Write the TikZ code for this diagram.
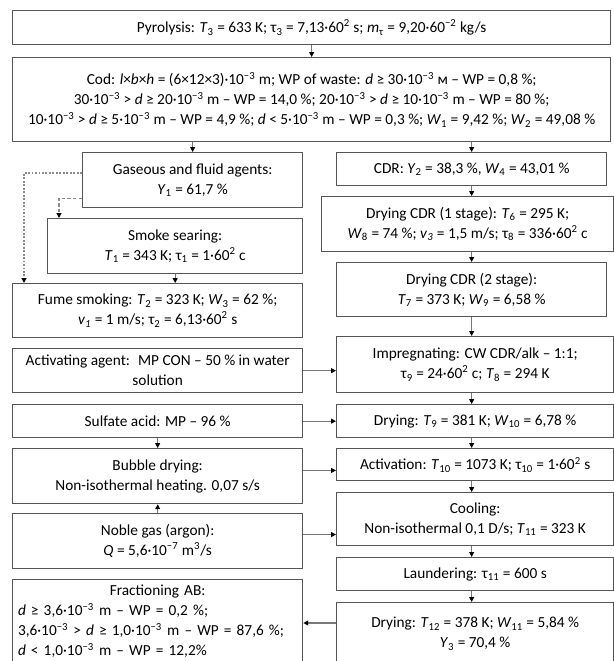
\documentclass[tikz,border=0pt]{standalone}
\usepackage{fontspec}
\setmainfont{Carlito}
\usetikzlibrary{arrows.meta,positioning,calc}
\definecolor{fcedge}{RGB}{85,85,85}
\definecolor{fcline}{RGB}{120,120,120}
\definecolor{fcdash}{RGB}{140,140,140}
\newcommand{\isub}[2]{\textit{#1}\textsubscript{#2}}
\newcommand{\tsup}[1]{\textsuperscript{#1}}
\tikzset{
  fcbox/.style={
    draw=fcedge, line width=1pt, align=center, anchor=north west,
    inner xsep=2pt, inner ysep=2pt, font=\fontsize{11.5}{15}\selectfont
  },
  lcol/.style={fcbox, minimum width=217.5pt},
  rcol/.style={fcbox, minimum width=207.75pt},
  arr/.style={-{Triangle[length=3.6pt,width=3.6pt,color=black]}, draw=fcline, line width=0.8pt},
  dotln/.style={arr, draw=fcdash, line width=1.2pt, dash pattern=on 1.4pt off 1.2pt},
  dshln/.style={arr, draw=fcdash, line width=1.2pt, dash pattern=on 2.6pt off 1.6pt}
}
\begin{document}
\begin{tikzpicture}[x=0.75pt, y=-0.75pt]
  \useasboundingbox (0,0) rectangle (614,661);
  \clip (0,0) rectangle (614,661);
  % top boxes
  \node[fcbox, minimum width=448.5pt, minimum height=25.5pt] (pyro) at (12,10)
    {Pyrolysis: \isub{T}{3} = 633 K; τ\textsubscript{3} = 7,13·60\tsup{2} s; \isub{m}{τ} = 9,20·60\tsup{−2} kg/s};
  \node[fcbox, minimum width=448.5pt, minimum height=63pt] (cod) at (12,57)
    {Cod: \textit{l}×\textit{b}×\textit{h} = (6×12×3)·10\tsup{−3} m; WP of waste: \textit{d} ≥ 30·10\tsup{−3} м – WP = 0,8 \%;\\
     30·10\tsup{−3} > \textit{d} ≥ 20·10\tsup{−3} m – WP = 14,0 \%; 20·10\tsup{−3} > \textit{d} ≥ 10·10\tsup{−3} m – WP = 80 \%;\\
     10·10\tsup{−3} > \textit{d} ≥ 5·10\tsup{−3} m – WP = 4,9 \%; \textit{d} < 5·10\tsup{−3} m – WP = 0,3 \%; \isub{W}{1} = 9,42 \%; \isub{W}{2} = 49,08 \%};
  % left column
  \node[fcbox, minimum width=165pt, minimum height=41.25pt] (gas) at (82,152)
    {Gaseous and fluid agents:\\ \isub{Y}{1} = 61,7 \%};
  \node[fcbox, minimum width=191.25pt, minimum height=41.25pt] (smoke) at (47,218)
    {Smoke searing:\\ \isub{T}{1} = 343 K; τ\textsubscript{1} = 1·60\tsup{2} c};
  \node[lcol, minimum height=40.5pt] (fume) at (12,283)
    {Fume smoking: \isub{T}{2} = 323 K; \isub{W}{3} = 62 \%;\\ \textit{v}\textsubscript{\textit{1}} = 1 m/s; τ\textsubscript{2} = 6,13·60\tsup{2} s};
  \node[lcol, minimum height=33pt] (agent) at (12,348)
    {Activating agent:~ MP CON – 50 \% in water\\ solution};
  \node[lcol, minimum height=24.75pt] (acid) at (12,404) {Sulfate acid: MP – 96 \%};
  \node[lcol, minimum height=41.25pt] (bubble) at (12,448)
    {Bubble drying:\\ Non-isothermal heating. 0,07 s/s};
  \node[lcol, minimum height=41.25pt] (argon) at (12,513)
    {Noble gas (argon):\\ \textit{Q} = 5,6·10\tsup{−7} m\tsup{3}/s};
  \node[lcol, align=left, inner xsep=4pt, text width=209.5pt, minimum height=63pt] (fract) at (12,579)
    {\hfil Fractioning AB:\hfil\\
     \textit{d} ≥ 3,6·10\tsup{−3} m – WP = 0,2 \%;\\
     3,6·10\tsup{−3} > \textit{d} ≥ 1,0·10\tsup{−3} m – WP = 87,6 \%;\\
     \textit{d} < 1,0·10\tsup{−3} m – WP = 12,2\%};
  % right column
  \node[fcbox, minimum width=202.5pt, minimum height=24.75pt] (cdr) at (336,152)
    {CDR: \isub{Y}{2} = 38,3 \%, \isub{W}{4} = 43,01 \%};
  \node[fcbox, minimum width=219pt, minimum height=41.25pt] (dryone) at (321,196)
    {Drying CDR (1 stage): \isub{T}{6} = 295 K;\\ \isub{W}{8} = 74 \%; \textit{v}\textsubscript{\textit{3}} = 1,5 m/s; τ\textsubscript{8} = 336·60\tsup{2} c};
  \node[fcbox, minimum width=202.5pt, minimum height=40.5pt] (drytwo) at (336,262)
    {Drying CDR (2 stage):\\ \isub{T}{7} = 373 K; \isub{W}{9} = 6,58 \%};
  \node[rcol, minimum height=42pt] (impreg) at (336,336)
    {Impregnating: CW CDR/alk – 1:1;\\ τ\textsubscript{9} = 24·60\tsup{2} c; \isub{T}{8} = 294 K};
  \node[rcol, minimum height=24.75pt] (dryac) at (336,404)
    {Drying: \isub{T}{9} = 381 K; \isub{W}{10} = 6,78 \%};
  \node[rcol, minimum height=24pt] (activ) at (336,448)
    {Activation: \isub{T}{10} = 1073 K; τ\textsubscript{10} = 1·60\tsup{2} s};
  \node[rcol, minimum height=39.75pt] (cool) at (336,492)
    {Cooling:\\ Non-isothermal 0,1 D/s; \isub{T}{11} = 323 K};
  \node[rcol, minimum height=24.75pt] (wash) at (336,557)
    {Laundering: τ\textsubscript{11} = 600 s};
  \node[rcol, minimum height=46.5pt] (dryfin) at (336,602)
    {Drying: \isub{T}{12} = 378 K; \isub{W}{11} = 5,84 \%\\ \isub{Y}{3} = 70,4 \%};
  % main flow
  \draw[arr] (pyro) -- (cod);
  \draw[arr] (cod.south -| gas.north) -- (gas.north);
  \draw[arr] (cod.south -| cdr.north) -- (cdr.north);
  \draw[arr] (cdr.south) -- (cdr.south |- dryone.north);
  \draw[arr] (dryone.south -| drytwo.north) -- (drytwo.north);
  \draw[arr] (drytwo.south) -- (drytwo.south |- impreg.north);
  \draw[arr] (impreg.south -| cdr.south) -- (dryac.north -| cdr.south);
  \draw[arr] (dryac.south -| cdr.south) -- (activ.north -| cdr.south);
  \draw[arr] (activ.south -| cdr.south) -- (cool.north -| cdr.south);
  \draw[arr] (cool.south -| cdr.south) -- (wash.north -| cdr.south);
  \draw[arr] (wash.south -| cdr.south) -- (dryfin.north -| cdr.south);
  \draw[arr] (smoke.south) -- (smoke.south |- fume.north);
  \draw[arr] (acid.south) -- (bubble.north);
  \draw[arr] (argon.north) -- (bubble.south);
  % agents to the CDR line
  \draw[arr] (agent.east) -- (agent.east -| impreg.west);
  \draw[arr] (acid.east) -- (acid.east -| dryac.west);
  \coordinate (bubout) at ($(bubble.east)!0.5!(bubble.east |- activ.west)$);
  \draw[arr] (bubout) -- (bubout -| activ.west);
  \coordinate (gasout) at ($(argon.east)!0.3!(argon.east |- cool.west)$);
  \draw[arr] (gasout) -- (gasout -| cool.west);
  \coordinate (finout) at ($(dryfin.north west)+(0,21)$);
  \draw[arr] (finout) -- (finout -| fract.east);
  % gas and fluid
  \draw[dotln] ($(gas.north west)+(0,21)$) -| ($(fume.north west)+(12,0)$);
  \draw[dshln] ($(gas.south west)+(0,-10)$) -| ($(smoke.north west)+(12,0)$);
\end{tikzpicture}
\end{document}
